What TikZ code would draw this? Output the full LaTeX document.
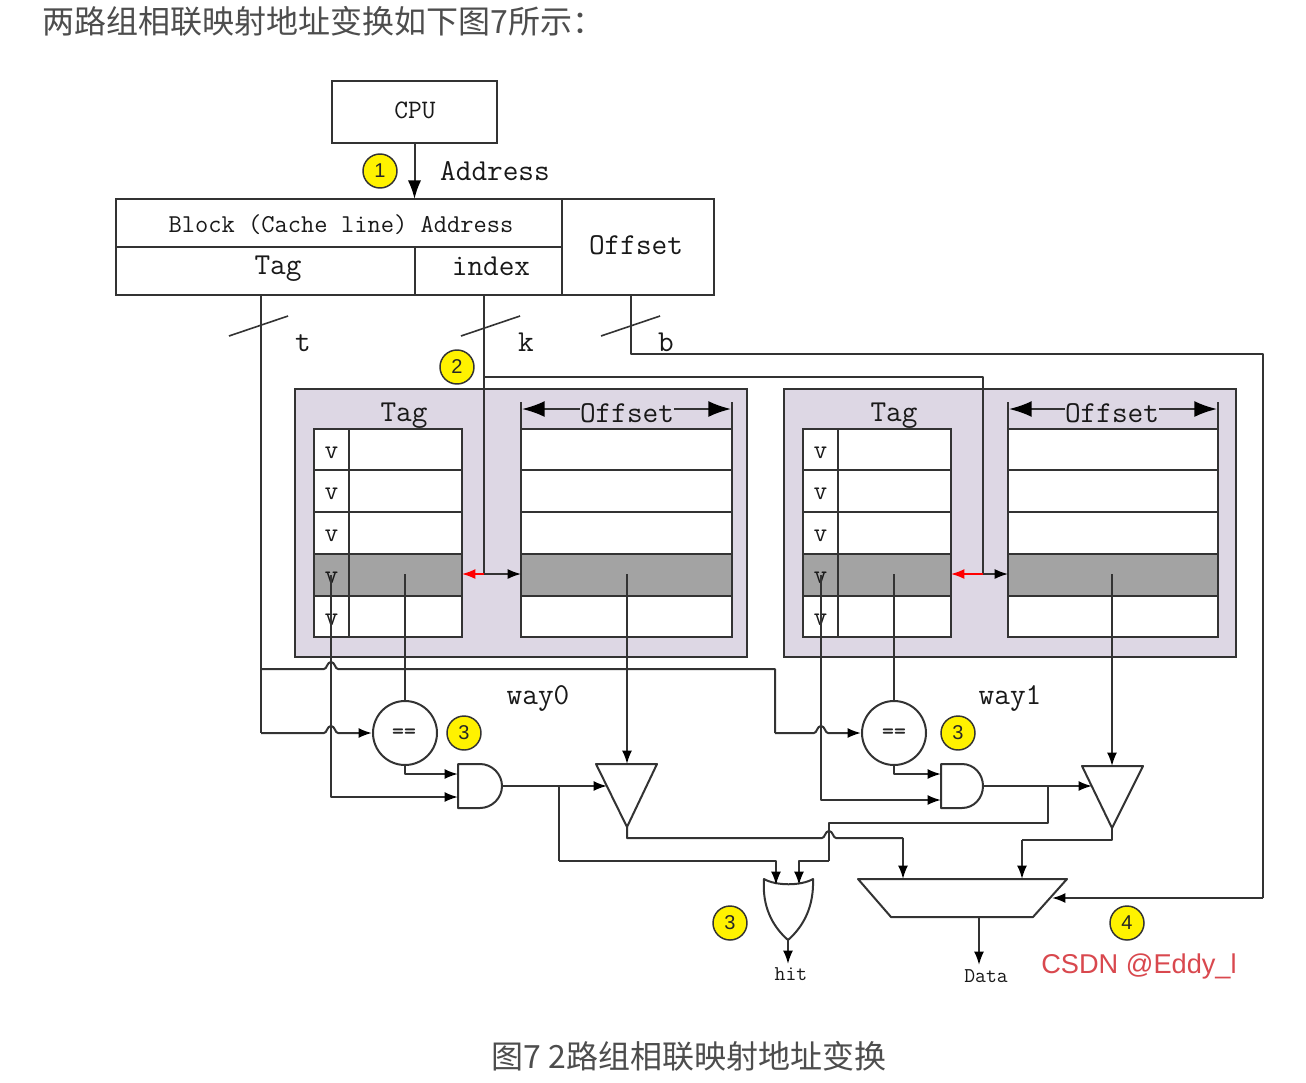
\documentclass[tikz,border=0pt]{standalone}
\usepackage{fontspec}
\newfontfamily\cjk{Noto Sans CJK SC}
\newfontfamily\lsans{Liberation Sans}
\usetikzlibrary{arrows.meta,calc}
\definecolor{ink}{HTML}{333333}
\definecolor{waybg}{HTML}{DDD7E4}
\definecolor{rowgray}{HTML}{A3A3A3}
\definecolor{capt}{HTML}{4D4D4D}
\definecolor{mark}{HTML}{D9484E}
\tikzset{
 wire/.style={draw=ink,line width=1.5pt,line join=round},
 arr/.style={wire,-{Latex[length=10pt,width=7.5pt,color=black]}},
 bigarrow/.style={wire,-{Latex[length=17pt,width=12pt,color=black]}},
 cpuarr/.style={wire,-{Latex[length=14pt,width=10pt,color=black]}},
 redarr/.style={draw=red,line width=1.2pt,-{Latex[length=10pt,width=7.5pt]}},
 cellbox/.style={draw=ink,line width=1.5pt,inner sep=0pt,outer sep=0pt,rectangle},
 lab/.style={inner sep=0pt,text=black!90,font=\ttfamily\fontsize{22.8}{22.8}\selectfont},
 midlab/.style={inner sep=0pt,text=black!90,font=\ttfamily\fontsize{19.3}{19.3}\selectfont},
 cpulab/.style={inner sep=0pt,text=black!90,font=\ttfamily\fontsize{20}{20}\selectfont},
 smalllab/.style={inner sep=0pt,text=black!90,font=\ttfamily\fontsize{15.8}{15.8}\selectfont},
 vlab/.style={inner sep=0pt,text=black!90,font=\ttfamily\fontsize{20}{20}\selectfont},
 badge/.style={circle,draw=ink,fill=yellow,line width=1.1pt,minimum size=25.5pt,inner sep=0pt,text=black!85,font=\lsans\fontsize{15}{15}\selectfont},
 cmpnode/.style={circle,draw=ink,fill=white,line width=1.5pt,minimum size=48pt,inner sep=0pt},
 gate/.style={draw=ink,fill=white,line width=1.5pt,line join=round},
 capnode/.style={inner sep=0pt,anchor=west,text=capt,font=\cjk\fontsize{24}{24}\selectfont},
}
\newcommand\cellat[6]{\node[cellbox,#6,minimum width={(#4-(#2))*0.75pt},minimum height={(#5-(#3))*0.75pt}] (#1) at ({(#2+#4)/2},{(#3+#5)/2}) {};}
\newcommand\hopx[2]{-- (#1-7,#2) .. controls (#1-4,#2) and (#1-4,#2-7) .. (#1,#2-7) .. controls (#1+4,#2-7) and (#1+4,#2) .. (#1+7,#2) --}
\newcommand\waytable[7]{%
 % #1 prefix, #2 bg left, #3 tag left, #4 divider, #5 tag right, #6 offset left, #7 offset right
 \cellat{#1bg}{#2}{389}{#2+452}{657}{fill=waybg}
 \foreach \r/\a/\b/\f/\s in {1/429/470/white/v,2/470/512/white/v,3/512/554/white/v,4/554/596/rowgray/v,5/596/637/white/v}{
  \cellat{#1v\r}{#3}{\a}{#4}{\b}{fill=\f}
  \cellat{#1t\r}{#4}{\a}{#5}{\b}{fill=\f}
  \cellat{#1o\r}{#6}{\a}{#7}{\b}{fill=\f}
  \node[vlab] (#1vl\r) at ($(#1v\r)+(0,3)$) {\s};
 }
}
\begin{document}
\begin{tikzpicture}[x=0.75pt,y=-0.75pt]
\useasboundingbox (0,0) rectangle (1306,1082);
\fill[white] (0,0) rectangle (1306,1082);
\node[capnode] (head) at (42,21) {两路组相联映射地址变换如下图7所示：};
\node[capnode,anchor=center] (foot) at (689,1056) {图7 2路组相联映射地址变换};

% CPU and address
\cellat{cpu}{332}{81}{497}{143}{}
\cellat{blk}{116}{199}{562}{247}{}
\cellat{tagc}{116}{247}{415}{295}{}
\cellat{idxc}{415}{247}{562}{295}{}
\cellat{offc}{562}{199}{714}{295}{}
\node[cpulab] (cput) at (415,110) {CPU};
\node[midlab] (blkt) at (341,225) {Block (Cache line) Address};
\node[lab] (tagt) at (278,269) {Tag};
\node[lab] (idxt) at (491,266) {index};
\node[lab] (offt) at (636,245) {Offset};
\draw[cpuarr] (cpu.south) -- (cpu.south |- blk.north);
\node[lab] (addrl) at (495,171) {Address};
\node[badge] (b1) at (380,171) {1};

% Way tables
\waytable{a}{295}{314}{349}{462}{521}{732}
\waytable{c}{784}{803}{838}{951}{1008}{1218}
\node[lab] (tag0) at (404,416) {Tag};
\node[lab] (tag1) at (894,416) {Tag};
\node[lab] (ofl0) at (627,413) {Offset};
\node[lab] (ofl1) at (1112,413) {Offset};
\foreach \p/\l in {a/ofl0,c/ofl1}{
 \draw[wire] (\p o1.north west) -- ++(0,-27);
 \draw[wire] (\p o1.north east) -- ++(0,-27);
 \coordinate (\p L) at ($(\p o1.north west)+(1,-20)$);
 \coordinate (\p R) at ($(\p o1.north east)+(-1,-20)$);
 \draw[bigarrow] (\l.west |- \p L) -- (\p L);
 \draw[bigarrow] (\l.east |- \p R) -- (\p R);
}
\node[lab] (way0) at (538,698) {way0};
\node[lab] (way1) at (1010,698) {way1};

% address wires
\coordinate (tTop) at (261,295);
\coordinate (kTop) at (484,295);
\coordinate (bTop) at (631,295);
\coordinate (tie) at (261,733);
\coordinate (tBr) at (261,669);
\coordinate (k0) at (484,574);
\coordinate (k1) at (983,574);
\coordinate (kBr) at (484,377);
\coordinate (bCorner) at (631,354);
\coordinate (bRight) at (1263,354);
\coordinate (bBot) at (1263,898);
\coordinate (muxIn) at (1052,898);
\draw[wire] (tTop) -- (tie);
\draw[wire] (kTop) -- (k0);
\draw[wire] (kBr) -| (k1);
\draw[wire] (bTop) -- (bCorner) -- (bRight) -- (bBot);
\draw[arr] (bBot) -- (muxIn);
\foreach \x in {259,491,631}{
 \draw[wire,line width=1.2pt] (\x-30,336) -- (\x+29,316);
}
\node[lab] (lt) at (303,343) {t};
\node[lab] (lk) at (526,342) {k};
\node[lab] (lb) at (666,342) {b};
\node[badge] (b2) at (457,367) {2};
\draw[redarr] (k0) -- (at4.east |- k0);
\draw[arr,line width=1.2pt] (k0) -- (ao4.west |- k0);
\draw[redarr] (k1) -- (ct4.east |- k1);
\draw[arr,line width=1.2pt] (k1) -- (co4.west |- k1);

% comparators
\node[cmpnode] (cmp0) at (405,733) {};
\node[cmpnode] (cmp1) at (894,733) {};
\node[inner sep=0pt,text=black!85,font=\ttfamily\bfseries\fontsize{17}{17}\selectfont] (cmt0) at (404,734) {==};
\node[inner sep=0pt,text=black!85,font=\ttfamily\bfseries\fontsize{17}{17}\selectfont] (cmt1) at (894,734) {==};
\node[badge] (b3a) at (464,733) {3};
\node[badge] (b3b) at (958,733) {3};
\node[badge] (b3c) at (730,923) {3};
\node[badge] (b4) at (1127,923) {4};

% AND gates
\draw[gate] (458,764) -- (480,764) .. controls (492,764) and (502,774) .. (502,786) .. controls (502,798) and (492,808) .. (480,808) -- (458,808) -- cycle;
\draw[gate] (941,764) -- (962,764) .. controls (974,764) and (983,774) .. (983,786) .. controls (983,798) and (974,808) .. (962,808) -- (941,808) -- cycle;

% Triangles
\coordinate (tr0a) at (596,764); \coordinate (tr0b) at (657,764); \coordinate (tr0c) at (627,827);
\coordinate (tr1a) at (1082,766); \coordinate (tr1b) at (1143,766); \coordinate (tr1c) at (1112,828);
\draw[gate] (tr0a) -- (tr0b) -- (tr0c) -- cycle;
\draw[gate] (tr1a) -- (tr1b) -- (tr1c) -- cycle;
\coordinate (tr0top) at (627,764); \coordinate (tr1top) at (1112,766);
\coordinate (tr0in) at (607,786); \coordinate (tr1in) at (1092,786);

% OR gate and mux
\draw[gate] (764,879) .. controls (776,886) and (801,886) .. (813,879) .. controls (814,906) and (804,926) .. (788,940) .. controls (772,926) and (762,906) .. (764,879) -- cycle;
\coordinate (orOut) at (788,940);
\coordinate (mTL) at (858,879); \coordinate (mTR) at (1067,879); \coordinate (mBR) at (1033,917); \coordinate (mBL) at (891,917);
\draw[gate] (mTL) -- (mTR) -- (mBR) -- (mBL) -- cycle;

% data wires
\coordinate (g0a) at (405,574); \coordinate (g0b) at (627,574); \coordinate (g0v) at (331,575);
\coordinate (g1a) at (894,574); \coordinate (g1b) at (1112,574); \coordinate (g1v) at (821,575);
\draw[wire] (g0a) -- (cmp0.north);
\draw[wire] (g1a) -- (cmp1.north);
\draw[arr] (g0b) -- (tr0top);
\draw[arr] (g1b) -- (tr1top);
\coordinate (v0i) at (458,797); \coordinate (v1i) at (941,800);
\draw[arr] (g0v) |- (v0i);
\draw[arr] (g1v) |- (v1i);
\coordinate (c0i) at (458,774); \coordinate (c1i) at (941,774);
\draw[arr] (cmp0.south) |- (c0i);
\draw[arr] (cmp1.south) |- (c1i);
\coordinate (a0o) at (502,786); \coordinate (a1o) at (983,786);
\draw[arr] (a0o) -- (tr0in);
\draw[arr] (a1o) -- (tr1in);

% tag wires with hops
\draw[arr] (tie) \hopx{331}{733} (cmp0.west);
\coordinate (tv) at (775,669); \coordinate (tvb) at (775,733);
\draw[wire] (tBr) \hopx{331}{669} (tv) -- (tvb);
\draw[arr] (tvb) \hopx{821}{733} (cmp1.west);

% to OR and mux
\coordinate (s0) at (559,786); \coordinate (s0b) at (559,861); \coordinate (or0) at (776,885);
\draw[wire] (s0) -- (s0b);
\draw[arr] (s0b) -| (or0);
\coordinate (s1) at (1048,786); \coordinate (s1b) at (1048,823); \coordinate (s1c) at (829,823); \coordinate (s1d) at (829,861); \coordinate (or1) at (799,885);
\draw[wire] (s1) -- (s1b) -- (s1c) -- (s1d);
\draw[arr] (s1d) -| (or1);
\coordinate (m0s) at (627,838); \coordinate (m0c) at (903,838); \coordinate (m0i) at (903,879);
\draw[wire] (tr0c) -- (m0s) \hopx{829}{838} (m0c);
\draw[arr] (m0c) -- (m0i);
\coordinate (m1s) at (1112,840); \coordinate (m1c) at (1022,840); \coordinate (m1i) at (1022,879);
\draw[wire] (tr1c) -- (m1s) -- (m1c);
\draw[arr] (m1c) -- (m1i);

% outputs
\node[smalllab] (hit) at (791,974) {hit};
\node[smalllab] (dat) at (986,976) {Data};
\coordinate (orEnd) at (788,964); \coordinate (mOut) at (979,917); \coordinate (mEnd) at (979,965);
\draw[arr] (orOut) -- (orEnd);
\draw[arr] (mOut) -- (mEnd);

\node[inner sep=0pt,text=mark,font=\lsans\fontsize{20.4}{20.4}\selectfont] (wm) at (1139,966) {CSDN @Eddy\_l};
\end{tikzpicture}
\end{document}
